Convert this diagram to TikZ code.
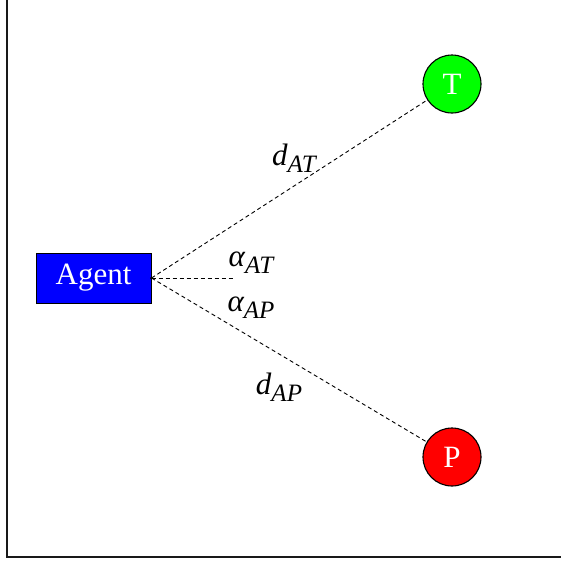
\documentclass[tikz,border=0pt]{standalone}
\usepackage{fontspec}
\setmainfont{Liberation Serif}
\newcommand{\lbl}[2]{{\itshape #1\raisebox{-7pt}{\fontsize{25}{28}\selectfont #2}}}
\begin{document}
\begin{tikzpicture}[x=1pt,y=-1pt,
  every node/.style={font=\fontsize{31}{36}\selectfont},
  agentbox/.style={draw=black,fill=blue,text=white,minimum width=115pt,minimum height=50pt,inner sep=0pt,line width=1pt},
  target/.style={circle,draw=black,text=white,minimum size=58pt,inner sep=0pt,line width=1.1pt},
  link/.style={dashed,dash pattern=on 4pt off 3pt,line width=0.9pt},
  math/.style={inner sep=0pt}]
  \useasboundingbox (0,0) rectangle (561,560);
  % frame
  \draw[line width=1.4pt,black!90] (7,0) -- (7,557) -- (561,557);
  % nodes
  \node[agentbox] (agent) at (93.5,278) {Agent};
  \node[target,fill=green] (T) at (452,84) {T};
  \node[target,fill=red] (P) at (452,457) {P};
  \coordinate (ref) at (233,278);
  % connectors
  \draw[link] (agent.east) -- (T);
  \draw[link] (agent.east) -- (P);
  \draw[link] (agent.east) -- (ref);
  \fill (agent.east) circle (1.5pt);
  % labels
  \node[math] (dat) at (294,158) {\lbl{d}{AT}};
  \node[math] (dap) at (279,387) {\lbl{d}{AP}};
  \node[math] (aat) at (251,263) {\lbl{α}{AT}};
  \node[math] (aap) at (251,308) {\lbl{α}{AP}};
\end{tikzpicture}
\end{document}
